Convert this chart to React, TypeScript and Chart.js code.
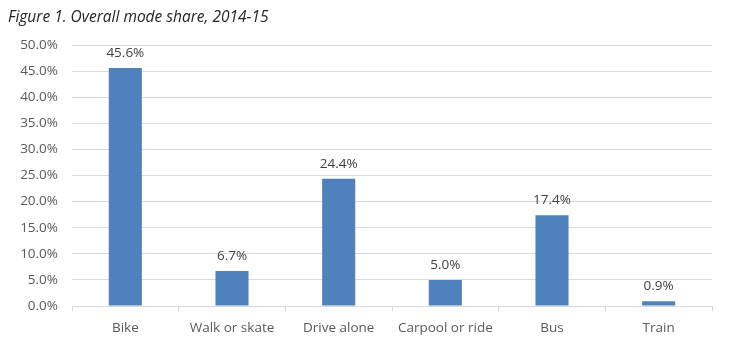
import React, { useEffect, useRef } from "react";
import { Chart, registerables } from "chart.js";

Chart.register(...registerables);

const categories = ["Bike", "Walk or skate", "Drive alone", "Carpool or ride", "Bus", "Train"];
const shares = [45.6, 6.7, 24.4, 5.0, 17.4, 0.9];
const yTicks = [0, 5, 10, 15, 20, 25, 30, 35, 40, 45, 50];
const titleText = "Figure 1. Overall mode share, 2014-15";

const FONT = "'Open Sans', sans-serif";

const titlePlugin = {
  id: "figTitle",
  afterDraw(chart: any) {
    const ctx = chart.ctx;
    ctx.save();
    ctx.font = `italic 15.5px ${FONT}`;
    ctx.fillStyle = "#262626";
    ctx.textAlign = "left";
    ctx.textBaseline = "alphabetic";
    ctx.fillText(titleText, 8, 22);
    ctx.restore();
  },
};

const labelPlugin = {
  id: "barLabels",
  afterDatasetsDraw(chart: any) {
    const ctx = chart.ctx;
    const meta = chart.getDatasetMeta(0);
    ctx.save();
    ctx.font = `13.5px ${FONT}`;
    ctx.fillStyle = "#404040";
    ctx.textAlign = "center";
    ctx.textBaseline = "alphabetic";
    meta.data.forEach((bar: any, i: number) => {
      ctx.fillText(shares[i].toFixed(1) + "%", bar.x, bar.y - 11);
    });
    ctx.restore();
  },
};

export default function App() {
  const ref = useRef<HTMLCanvasElement>(null);
  useEffect(() => {
    document.body.style.margin = "0";
    const chart = new Chart(ref.current!, {
      type: "bar",
      data: {
        labels: categories,
        datasets: [
          {
            data: shares,
            backgroundColor: "#4F81BD",
            barPercentage: 0.31,
            categoryPercentage: 1,
          },
        ],
      },
      options: {
        responsive: false,
        animation: false,
        layout: { padding: { top: 45, right: 17, left: 0, bottom: 0 } },
        plugins: { legend: { display: false }, tooltip: { enabled: false } },
        scales: {
          x: {
            grid: { offset: true, drawOnChartArea: false, drawTicks: true, tickLength: 5, color: "#d9d9d9" },
            border: { display: true, color: "#d9d9d9" },
            ticks: { color: "#595959", font: { family: FONT, size: 13.5 }, padding: 9 },
            afterFit(scale: any) {
              scale.height = 46;
            },
          },
          y: {
            min: 0,
            max: 50,
            afterBuildTicks(scale: any) {
              scale.ticks = yTicks.map((v) => ({ value: v }));
            },
            grid: { color: "#d9d9d9", drawTicks: false },
            border: { display: false },
            ticks: {
              color: "#595959",
              font: { family: FONT, size: 13.5 },
              padding: 14,
              callback: (v: any) => Number(v).toFixed(1) + "%",
            },
            afterFit(scale: any) {
              scale.width = 72;
            },
          },
        },
      },
      plugins: [titlePlugin, labelPlugin],
    });
    return () => chart.destroy();
  }, []);
  return <canvas ref={ref} width={729} height={352} style={{ display: "block" }} />;
}
